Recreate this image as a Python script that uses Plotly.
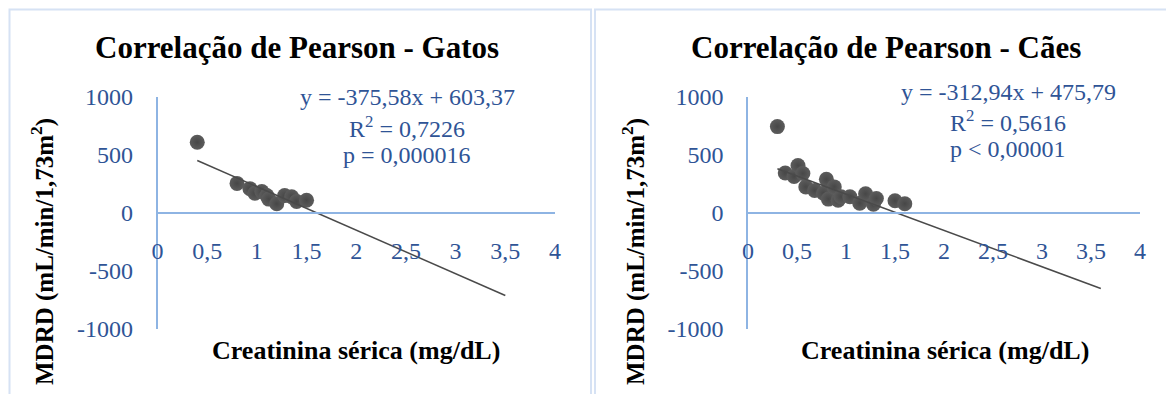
import plotly.graph_objects as go

# ---------------- data ----------------
gatos_creat = [0.40, 0.80, 0.93, 0.98, 1.05, 1.10, 1.12, 1.20, 1.28, 1.35, 1.40, 1.50]
gatos_mdrd = [610, 255, 210, 170, 185, 150, 120, 80, 150, 140, 100, 110]

caes_creat = [0.30, 0.38, 0.47, 0.51, 0.56, 0.59, 0.68, 0.77, 0.80, 0.82,
              0.88, 0.92, 0.95, 1.04, 1.14, 1.20, 1.28, 1.31, 1.50, 1.60]
caes_mdrd = [745, 345, 315, 410, 340, 225, 195, 170, 290, 120,
             225, 110, 140, 140, 85, 165, 75, 125, 105, 80]

gatos_slope, gatos_intercept = -375.58, 603.37
caes_slope, caes_intercept = -312.94, 475.79
gatos_trend_x = [0.40, 3.5]
caes_trend_x = [0.30, 3.6]

titles = ["Correlação de Pearson - Gatos", "Correlação de Pearson - Cães"]
eq_text = ["y = -375,58x + 603,37", "y = -312,94x + 475,79"]
r2_text = ["R<sup>2</sup> = 0,7226", "R<sup>2</sup> = 0,5616"]
p_text = ["p = 0,000016", "p < 0,00001"]
x_title = "Creatinina sérica (mg/dL)"
y_title = "MDRD (mL/min/1,73m<sup>2</sup>)"

x_tickvals = [0, 0.5, 1, 1.5, 2, 2.5, 3, 3.5, 4]
x_ticktext = ["0", "0,5", "1", "1,5", "2", "2,5", "3", "3,5", "4"]
y_tickvals = [-1000, -500, 0, 500, 1000]
y_ticktext = ["-1000", "-500", "0", "500", "1000"]

# ---------------- styling ----------------
W, H = 1174, 394
OFF = 8  # page offset of the figure inside the browser window
PT_COLOR = "#5c5c5c"
LINE_COLOR = "#4a4a4a"
AXIS_COLOR = "#8EB4E3"
TICK_COLOR = "#2F5496"
TICK_FONT = dict(family="Liberation Serif", size=24, color=TICK_COLOR)
BORDER = "#D6E2F4"


def px_x(p):
    return (p - OFF) / W


def px_y(p):
    return 1 - (p - OFF) / H


y_dom = [px_y(329), px_y(97)]
x_doms = [[px_x(157.5), px_x(555)], [px_x(748), px_x(1140)]]
x0_pos = (y_dom[0] + y_dom[1]) / 2

fig = go.Figure()

panels = [
    (gatos_creat, gatos_mdrd, gatos_slope, gatos_intercept, gatos_trend_x),
    (caes_creat, caes_mdrd, caes_slope, caes_intercept, caes_trend_x),
]

for i, (xs, ys, m, b, tx) in enumerate(panels):
    xa = "x" if i == 0 else "x2"
    ya = "y" if i == 0 else "y2"
    fig.add_trace(go.Scatter(
        x=xs, y=ys, mode="markers", xaxis=xa, yaxis=ya,
        marker=dict(size=15, color=PT_COLOR,
                    gradient=dict(type="radial", color="#474747"),
                    line=dict(width=0)),
        showlegend=False, hoverinfo="x+y"))
    fig.add_trace(go.Scatter(
        x=tx, y=[m * v + b for v in tx], mode="lines", xaxis=xa, yaxis=ya,
        line=dict(color=LINE_COLOR, width=1.5), showlegend=False))

for i in range(2):
    sfx = "" if i == 0 else "2"
    fig.layout["xaxis" + sfx] = dict(
        domain=x_doms[i], range=[0, 4], anchor="free", position=x0_pos,
        tickvals=x_tickvals, ticktext=x_ticktext, tickfont=TICK_FONT,
        showline=True, linecolor=AXIS_COLOR, linewidth=1.5,
        showgrid=False, zeroline=False, ticks="", ticklabelstandoff=16,
        automargin=False, fixedrange=True)
    fig.layout["yaxis" + sfx] = dict(
        domain=y_dom, range=[-1000, 1000], anchor="x" + sfx,
        tickvals=y_tickvals, ticktext=y_ticktext, tickfont=TICK_FONT,
        showline=True, linecolor=AXIS_COLOR, linewidth=1.5,
        showgrid=False, zeroline=False, ticks="", ticklabelstandoff=18,
        automargin=False, fixedrange=True)

ann = []
title_cx = [297, 886]
xt_cx = [356, 945]
yt_cx = [42, 633]
eq_cx = [407, 1008]
eq_cy = [[97, 127, 155], [92, 121, 149]]
for i in range(2):
    ann.append(dict(x=px_x(title_cx[i]), y=px_y(47), xref="paper", yref="paper",
                    text="<b>" + titles[i] + "</b>", showarrow=False,
                    xanchor="center", yanchor="middle",
                    font=dict(family="Liberation Serif", size=31, color="black")))
    ann.append(dict(x=px_x(xt_cx[i]), y=px_y(350), xref="paper", yref="paper",
                    text="<b>" + x_title + "</b>", showarrow=False,
                    xanchor="center", yanchor="middle",
                    font=dict(family="Liberation Serif", size=26, color="black")))
    ann.append(dict(x=px_x(yt_cx[i]), y=px_y(252), xref="paper", yref="paper",
                    text="<b>" + y_title + "</b>", showarrow=False, textangle=-90,
                    xanchor="center", yanchor="middle",
                    font=dict(family="Liberation Serif", size=25, color="black")))
    for txt, cy in zip([eq_text[i], r2_text[i], p_text[i]], eq_cy[i]):
        ann.append(dict(x=px_x(eq_cx[i]), y=px_y(cy), xref="paper", yref="paper",
                        text=txt, showarrow=False, xanchor="center", yanchor="middle",
                        font=TICK_FONT))

shapes = [
    dict(type="rect", xref="paper", yref="paper", x0=px_x(9.5), x1=px_x(591),
         y0=px_y(420), y1=px_y(9.5), line=dict(color=BORDER, width=2), layer="below"),
    dict(type="rect", xref="paper", yref="paper", x0=px_x(595), x1=px_x(1170),
         y0=px_y(420), y1=px_y(9.5), line=dict(color=BORDER, width=2), layer="below"),
]

fig.update_layout(
    width=W, height=H,
    margin=dict(l=0, r=0, t=0, b=0, pad=0, autoexpand=False),
    paper_bgcolor="white", plot_bgcolor="white",
    annotations=ann, shapes=shapes, showlegend=False)

fig.write_html("out.html")
